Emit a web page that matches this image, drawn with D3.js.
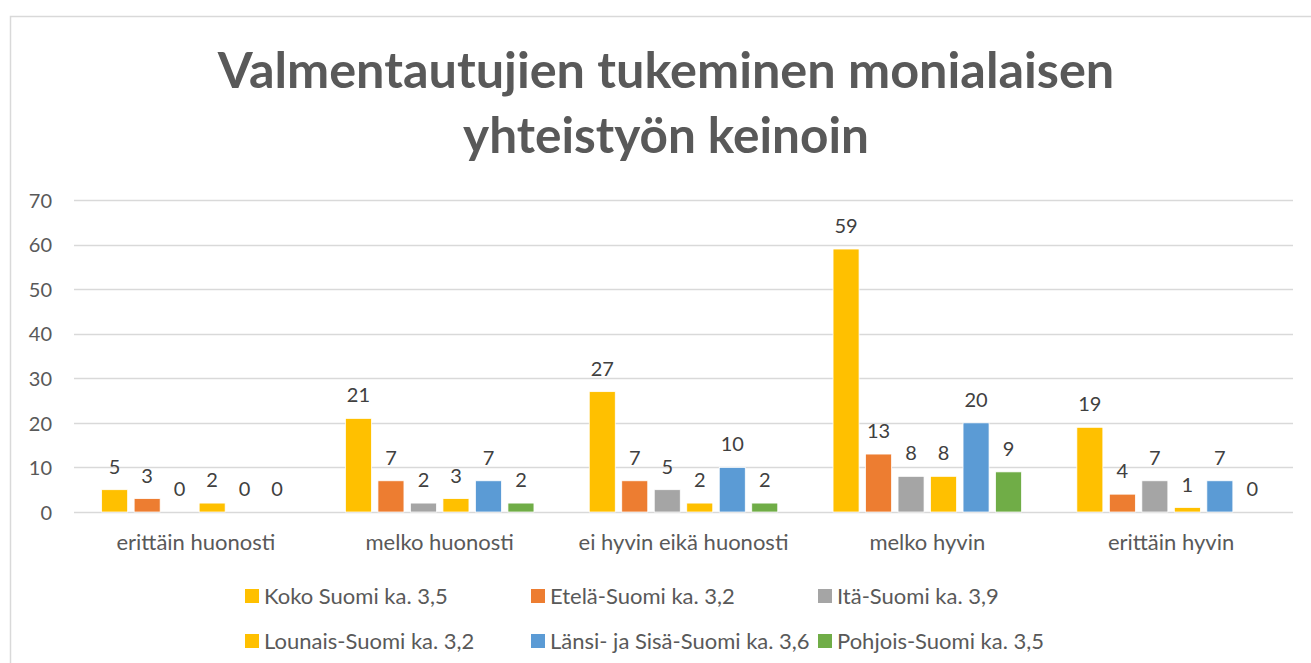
<!DOCTYPE html>
<html>
<head>
<meta charset="utf-8">
<script src="https://cdn.jsdelivr.net/npm/d3@7"></script>
<style>
  body { margin: 0; background: #fff; }
  text { font-family: Lato, "Open Sans", sans-serif; }
</style>
</head>
<body>
<svg id="chart" width="1311" height="663"></svg>
<script>
// data
var categories = ["erittäin huonosti", "melko huonosti", "ei hyvin eikä huonosti", "melko hyvin", "erittäin hyvin"];
var seriesNames = ["Koko Suomi ka. 3,5", "Etelä-Suomi ka. 3,2", "Itä-Suomi ka. 3,9",
                   "Lounais-Suomi ka. 3,2", "Länsi- ja Sisä-Suomi ka. 3,6", "Pohjois-Suomi ka. 3,5"];
var kokoSuomi    = [5, 21, 27, 59, 19];
var etelaSuomi   = [3, 7, 7, 13, 4];
var itaSuomi     = [0, 2, 5, 8, 7];
var lounaisSuomi = [2, 3, 2, 8, 1];
var lansiSuomi   = [0, 7, 10, 20, 7];
var pohjoisSuomi = [0, 2, 2, 9, 0];
var yTicks = [0, 10, 20, 30, 40, 50, 60, 70];
var titleLines = ["Valmentautujien tukeminen monialaisen", "yhteistyön keinoin"];

var seriesValues = [kokoSuomi, etelaSuomi, itaSuomi, lounaisSuomi, lansiSuomi, pohjoisSuomi];
var colors = ["#FFC000", "#ED7D31", "#A5A5A5", "#FFC000", "#5B9BD5", "#70AD47"];

var svg = d3.select('#chart');

// chart frame (only left and top edges are in view)
svg.append('path')
    .attr('d', 'M10.5,663 L10.5,16.5 L1311,16.5')
    .style('fill', 'none')
    .style('stroke', '#d9d9d9')
    .style('stroke-width', 1.5);

// title
var title = svg.append('g');
var titleY = [88, 153];
var titleWidth = [897, 406];
titleLines.forEach(function(t, i) {
    var el = title.append('text')
        .attr('x', 666)
        .attr('y', titleY[i])
        .attr('text-anchor', 'middle')
        .style('font-weight', 'bold')
        .style('font-size', '46px')
        .style('fill', '#595959')
        .text(t);
    // fit to reference width
    var w = el.node().getComputedTextLength();
    el.style('font-size', (46 * titleWidth[i] / w).toFixed(1) + 'px');
});

var plot = { left: 74, right: 1293, top: 200, bottom: 512 };

var x0 = d3.scaleBand()
    .domain(categories)
    .range([plot.left, plot.right]);

var y = d3.scaleLinear()
    .domain([0, 70])
    .range([plot.bottom, plot.top]);

// gridlines
svg.append('g')
    .selectAll('line')
    .data(yTicks)
    .enter().append('line')
    .attr('x1', plot.left)
    .attr('x2', plot.right)
    .attr('y1', function(d) { return Math.round(y(d)) + 0.5; })
    .attr('y2', function(d) { return Math.round(y(d)) + 0.5; })
    .style('stroke', '#d9d9d9')
    .style('stroke-width', 1.5);

// y axis labels
var yAxis = d3.axisLeft(y).tickValues(yTicks).tickSize(0).tickPadding(0);
var gy = svg.append('g')
    .attr('transform', 'translate(52,0)')
    .call(yAxis);
gy.select('.domain').remove();
gy.selectAll('text')
    .attr('dy', '0.36em')
    .style('font-family', 'Lato, "Open Sans", sans-serif')
    .style('font-size', '20px')
    .style('fill', '#595959');

// x axis labels
var xAxis = d3.axisBottom(x0).tickSize(0).tickPadding(0);
var gx = svg.append('g')
    .call(xAxis);
gx.select('.domain').remove();
gx.selectAll('text')
    .attr('y', 550)
    .attr('dy', 0)
    .style('font-family', 'Lato, "Open Sans", sans-serif')
    .style('font-size', '22px')
    .style('fill', '#595959');

// bars
var barW = 26, barStep = 32.5;
var x1 = d3.scaleBand()
    .domain(d3.range(seriesNames.length))
    .range([0, barStep * seriesNames.length]);

var groupW = barStep * 5 + barW;
var groups = svg.append('g')
    .selectAll('g')
    .data(categories)
    .enter().append('g')
    .attr('transform', function(d) {
        return 'translate(' + (x0(d) + x0.bandwidth() / 2 - groupW / 2) + ',0)';
    });

groups.selectAll('rect')
    .data(function(d, ci) { return seriesValues.map(function(s, si) { return { s: si, v: s[ci] }; }); })
    .enter().append('rect')
    .attr('x', function(d) { return x1(d.s); })
    .attr('width', barW)
    .attr('y', function(d) { return y(d.v); })
    .attr('height', function(d) { return y(0) - y(d.v); })
    .style('fill', function(d) { return colors[d.s]; })
    .style('stroke', '#fff')
    .style('stroke-width', 0.75);

groups.selectAll('text.lbl')
    .data(function(d, ci) { return seriesValues.map(function(s, si) { return { s: si, v: s[ci] }; }); })
    .enter().append('text')
    .attr('class', 'lbl')
    .attr('x', function(d) { return x1(d.s) + barW / 2; })
    .attr('y', function(d) { return y(d.v) - 16; })
    .attr('text-anchor', 'middle')
    .style('font-size', '20px')
    .style('fill', '#404040')
    .text(function(d) { return d.v; });

// legend
var legX = [245, 531, 818, 245, 531, 818];
var legY = [596, 596, 596, 641, 641, 641];
var legend = svg.append('g')
    .selectAll('g')
    .data(seriesNames)
    .enter().append('g')
    .attr('transform', function(d, i) { return 'translate(' + legX[i] + ',' + legY[i] + ')'; });

legend.append('rect')
    .attr('x', 0)
    .attr('y', -7)
    .attr('width', 14)
    .attr('height', 14)
    .style('fill', function(d, i) { return colors[i]; });

legend.append('text')
    .attr('x', 19)
    .attr('y', 8)
    .style('font-size', '22px')
    .style('fill', '#595959')
    .text(function(d) { return d; });
</script>
</body>
</html>
